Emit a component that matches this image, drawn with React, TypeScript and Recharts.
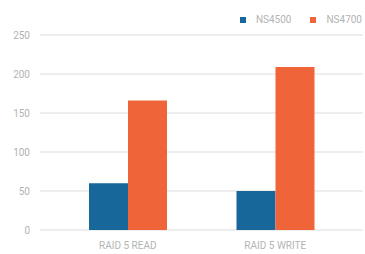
import { BarChart, Bar, XAxis, YAxis, CartesianGrid } from 'recharts';

const categories = ['RAID 5 READ', 'RAID 5 WRITE'];
const ns4500 = [60, 50];
const ns4700 = [166, 209];
const yTicks = [0, 50, 100, 150, 200, 250];

const data = categories.map((name, i) => ({ name, ns4500: ns4500[i], ns4700: ns4700[i] }));

const BLUE = '#17679a';
const ORANGE = '#f0643a';
const TEXT = '#b3b3b3';

const legendItems = [
  { label: 'NS4500', color: BLUE },
  { label: 'NS4700', color: ORANGE },
];

export default function App() {
  return (
    <div style={{ position: 'absolute', top: 0, left: 0, width: 365, height: 254, overflow: 'hidden', background: '#fff', fontFamily: 'Roboto, sans-serif' }}>
      {/* legend, top right */}
      <div style={{ position: 'absolute', top: 13, right: 3, display: 'flex', gap: 19, whiteSpace: 'nowrap' }}>
        {legendItems.map((it) => (
          <div key={it.label} style={{ display: 'flex', alignItems: 'center', gap: 10, fontSize: 10, lineHeight: '14px', color: TEXT }}>
            <span style={{ width: 6, height: 6, background: it.color, display: 'inline-block' }} />
            {it.label}
          </div>
        ))}
      </div>
      <BarChart
        width={365}
        height={254}
        data={data}
        margin={{ top: 35, right: 2, bottom: 0, left: 0 }}
        barGap={0}
        barSize={39}
      >
        <CartesianGrid vertical={false} stroke="#dddddd" />
        <XAxis
          dataKey="name"
          axisLine={false}
          tickLine={false}
          padding={{ left: 14, right: 14 }}
          tick={{ fill: TEXT, fontSize: 10 }}
          tickMargin={6}
          height={24}
        />
        <YAxis
          domain={[0, 250]}
          ticks={yTicks}
          axisLine={false}
          tickLine={false}
          width={40}
          tickMargin={4}
          tick={{ fill: TEXT, fontSize: 10 }}
        />
        <Bar dataKey="ns4500" fill={BLUE} isAnimationActive={false} />
        <Bar dataKey="ns4700" fill={ORANGE} isAnimationActive={false} />
      </BarChart>
    </div>
  );
}
